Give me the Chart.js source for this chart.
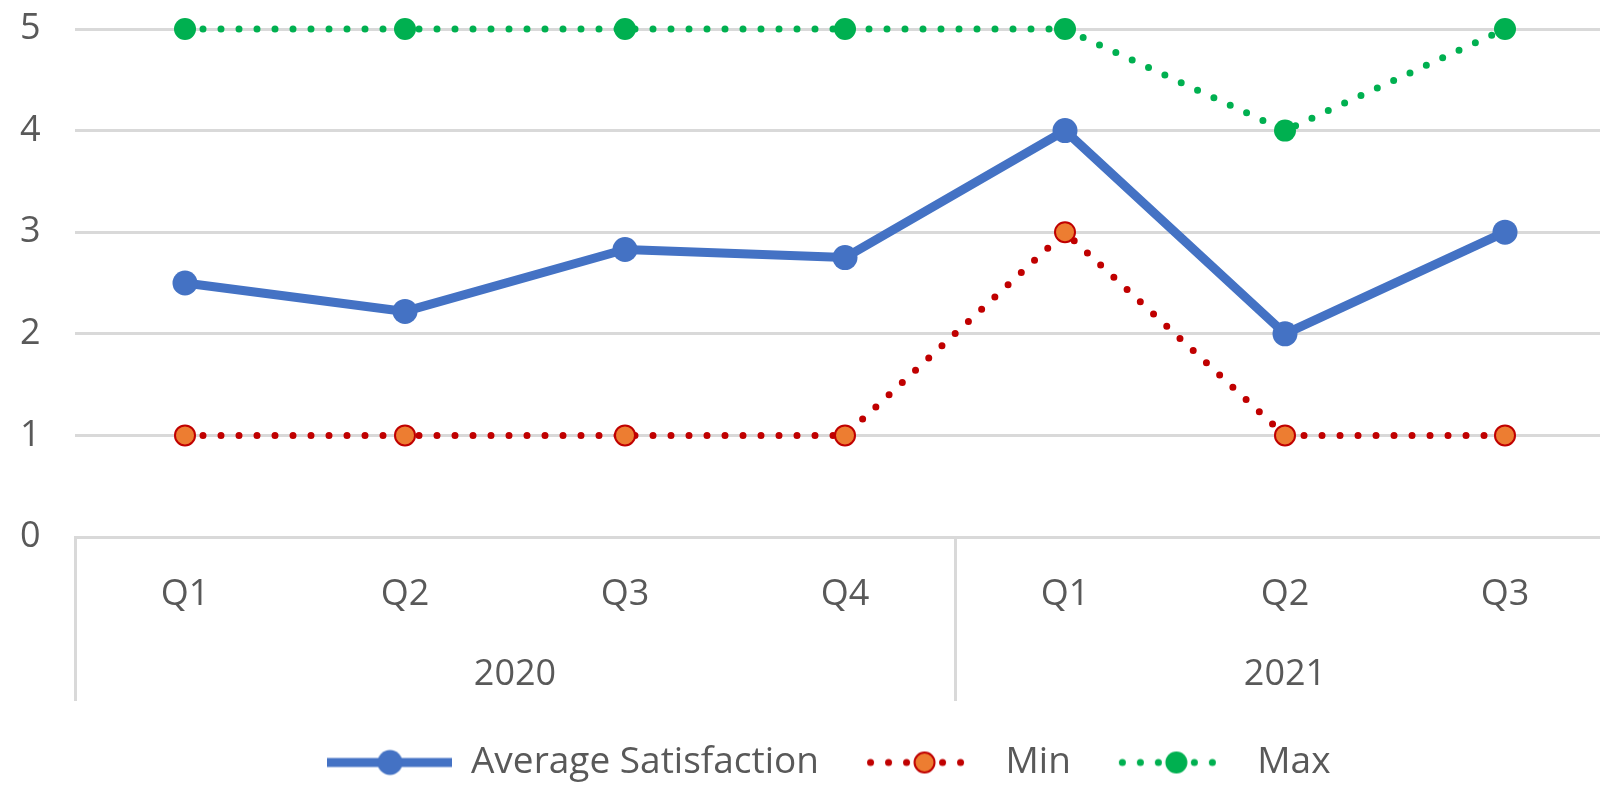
<!DOCTYPE html>
<html><head><meta charset="utf-8">
<script src="https://cdn.jsdelivr.net/npm/chart.js@4.4.1/dist/chart.umd.min.js"></script>
<style>html,body{margin:0;padding:0;background:#fff;overflow:hidden;width:1600px;height:785px}canvas{display:block}</style>
</head><body>
<canvas id="c" width="1638" height="785"></canvas>
<script>
// ---- data ----
const quarterLabels = ['Q1', 'Q2', 'Q3', 'Q4', 'Q1', 'Q2', 'Q3'];
const yearLabels = ['2020', '2021'];
const yearGroupSizes = [4, 3];
const avgSatisfaction = [2.5, 2.22, 2.83, 2.75, 4, 2, 3];
const minValues = [1, 1, 1, 1, 3, 1, 1];
const maxValues = [5, 5, 5, 5, 5, 4, 5];
const yTickValues = [0, 1, 2, 3, 4, 5];
const seriesNames = ['Average Satisfaction', 'Min', 'Max'];

// group centers / boundaries derived from group sizes
const groupCenters = [];
const groupBounds = [-0.5];
(function () {
  let s = 0;
  yearGroupSizes.forEach(n => { groupCenters.push(s + (n - 1) / 2); s += n; groupBounds.push(s - 0.5); });
})();

const BLUE = '#4472C4', RED = '#C00000', ORANGE = '#ED7D31', GREEN = '#00B050';
const GRID = '#D9D9D9', TEXT = '#595959';

Chart.defaults.font.family = "'Open Sans', 'Liberation Sans', sans-serif";
Chart.defaults.font.size = 36;
Chart.defaults.color = TEXT;

// legend samples (line + marker, Excel style)
function makeSample(kind) {
  const W = 125, H = 30, cx = 62.5, cy = 15;
  const cv = document.createElement('canvas');
  cv.width = W; cv.height = H;
  const g = cv.getContext('2d');
  if (kind === 0) {
    g.strokeStyle = BLUE; g.lineWidth = 9;
    g.beginPath(); g.moveTo(0, cy); g.lineTo(W, cy); g.stroke();
    g.fillStyle = BLUE; g.beginPath(); g.arc(cx, cy, 12.5, 0, Math.PI * 2); g.fill();
  } else {
    const col = kind === 1 ? RED : GREEN;
    g.fillStyle = col;
    [-3, -2, -1, 1, 2].forEach(k => { g.beginPath(); g.arc(cx + k * 18, cy, 3.5, 0, Math.PI * 2); g.fill(); });
    if (kind === 1) {
      g.fillStyle = ORANGE; g.strokeStyle = RED; g.lineWidth = 2;
      g.beginPath(); g.arc(cx, cy, 10, 0, Math.PI * 2); g.fill(); g.stroke();
    } else {
      g.fillStyle = GREEN; g.beginPath(); g.arc(cx, cy, 11, 0, Math.PI * 2); g.fill();
    }
  }
  return cv;
}
const legendSamples = [makeSample(0), makeSample(1), makeSample(2)];

const groupSeparators = {
  id: 'groupSeparators',
  afterDraw(chart) {
    const s = chart.scales.x2, ctx = chart.ctx;
    ctx.save();
    ctx.strokeStyle = GRID; ctx.lineWidth = 3;
    groupBounds.forEach(b => {
      const x = Math.round(s.getPixelForValue(b)) + 0.5;
      ctx.beginPath(); ctx.moveTo(x, chart.chartArea.bottom); ctx.lineTo(x, s.bottom); ctx.stroke();
    });
    ctx.restore();
  }
};

const dotted = { borderDash: [0, 18], borderCapStyle: 'round', borderWidth: 7 };

new Chart(document.getElementById('c'), {
  type: 'line',
  data: {
    labels: quarterLabels,
    datasets: [
      { label: seriesNames[0], data: avgSatisfaction, borderColor: BLUE, backgroundColor: BLUE, borderWidth: 9,
        borderJoinStyle: 'round', pointRadius: 12.5, pointBorderWidth: 0, pointBackgroundColor: BLUE, clip: false },
      Object.assign({ label: seriesNames[1], data: minValues, borderColor: RED, backgroundColor: ORANGE,
        pointRadius: 10, pointBorderWidth: 2, pointBorderColor: RED, pointBackgroundColor: ORANGE, clip: false }, dotted),
      Object.assign({ label: seriesNames[2], data: maxValues, borderColor: GREEN, backgroundColor: GREEN,
        pointRadius: 11, pointBorderWidth: 0, pointBackgroundColor: GREEN, clip: false }, dotted)
    ]
  },
  options: {
    responsive: false,
    animation: false,
    events: [],
    layout: { padding: { top: 29, bottom: -6, left: 20, right: 0 } },
    scales: {
      x: {
        type: 'category', offset: true, position: 'bottom',
        grid: { display: false, drawTicks: false },
        border: { display: true, color: GRID, width: 3 },
        ticks: { padding: 36, maxRotation: 0, autoSkip: false, color: TEXT },
        afterFit: a => { a.height = 80; }
      },
      x2: {
        type: 'linear', position: 'bottom', min: -0.5, max: 6.5,
        grid: { display: false, drawTicks: false },
        border: { display: false },
        afterBuildTicks: a => { a.ticks = groupCenters.map(v => ({ value: v })); },
        ticks: { padding: 36, maxRotation: 0, autoSkip: false, color: TEXT,
          callback: (v, i) => yearLabels[i] },
        afterFit: a => { a.height = 84; }
      },
      y: {
        type: 'linear', position: 'left', min: yTickValues[0], max: yTickValues[yTickValues.length - 1],
        afterBuildTicks: a => { a.ticks = yTickValues.map(v => ({ value: v })); },
        grid: { color: GRID, lineWidth: 3, drawTicks: false },
        border: { display: false },
        ticks: { padding: 0, crossAlign: 'far', color: TEXT },
        afterFit: a => { a.width = 55; }
      },
      yR: {
        type: 'linear', position: 'right', display: true,
        grid: { display: false, drawTicks: false }, border: { display: false },
        ticks: { display: false },
        afterFit: a => { a.width = 23; }
      }
    },
    plugins: {
      tooltip: { enabled: false },
      legend: {
        position: 'bottom',
        labels: {
          usePointStyle: true, pointStyleWidth: 125, boxHeight: 30, padding: 43, color: TEXT,
          font: { size: 37 },
          generateLabels(chart) {
            const items = Chart.defaults.plugins.legend.labels.generateLabels(chart);
            items.forEach((it, i) => { it.pointStyle = legendSamples[i]; });
            return items;
          }
        }
      }
    }
  },
  plugins: [groupSeparators]
});
</script>
</body></html>
